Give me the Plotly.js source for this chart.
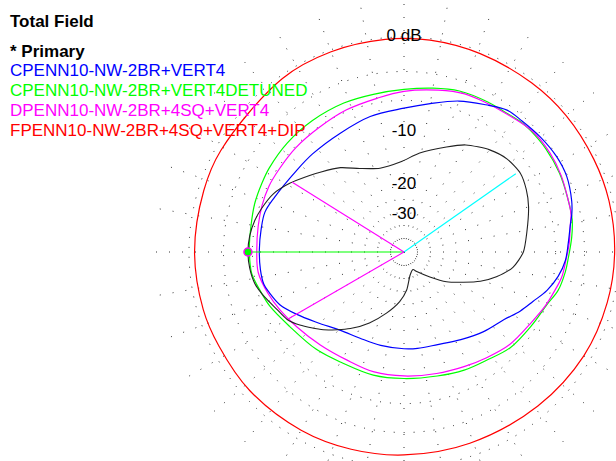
<!DOCTYPE html>
<html>
<head>
<meta charset="utf-8">
<script src="https://cdn.plot.ly/plotly-3.0.1.min.js"></script>
<style>
html,body{margin:0;padding:0;background:#fff;overflow:hidden;width:616px;height:461px;}
#plot{position:absolute;left:0;top:0;width:656px;height:504px;}
</style>
</head>
<body>
<div id="plot"></div>
<script>
// ---- data (dB relative to 0 dB, azimuth in degrees, CCW from east) ----
const titleText = 'Total Field';
const primaryLabel = '* Primary';
const seriesNames = ['CPENN10-NW-2BR+VERT4', 'CPENN10-NW-2BR+VERT4DETUNED', 'DPENN10-NW-2BR+4SQ+VERT4', 'FPENN10-NW-2BR+4SQ+VERT4+DIP'];
const seriesColors = ['#0000FF', '#00FF00', '#FF00FF', '#FF0000'];

const primaryAz = [0, 9, 20, 27, 34, 42, 50, 60, 68, 81, 92, 106, 118, 127, 136, 141, 149, 156, 163, 168, 174, 180, 186, 192, 198, 204, 210, 215, 224, 235, 244, 254, 265, 274, 285, 297, 303, 316, 325, 333, 339, 345, 352];
const primaryDb = [-10.1, -9.4, -8.3, -7.7, -7.3, -7.5, -8.2, -9.5, -11.0, -13.1, -14.9, -15.5, -14.1, -12.2, -10.7, -9.8, -8.2, -7.0, -6.3, -5.9, -5.6, -5.5, -5.6, -5.9, -6.6, -7.4, -8.0, -9.0, -11.2, -14.3, -17.2, -20.9, -25.1, -29.7, -37.8, -41.0, -38.1, -30.7, -24.4, -20.1, -16.6, -13.9, -11.5];

const blueAz = [3, 9, 13, 17, 25, 32, 40, 48, 54, 61, 70, 80, 90, 104, 118, 133, 143, 157, 164, 171, 179, 187, 193, 197, 203, 210, 219, 231, 243, 256, 270, 278, 290, 303, 315, 326, 333, 339, 345, 351, 357];
const blueDb = [-4.6, -4.2, -3.8, -3.5, -3.1, -3.05, -3.2, -3.4, -3.5, -4.2, -5.0, -6.1, -6.9, -7.4, -8.0, -8.1, -8.0, -7.3, -6.8, -6.8, -6.8, -6.8, -6.9, -7.3, -8.0, -9.4, -11.2, -13.0, -13.7, -13.8, -13.7, -13.6, -13.4, -12.4, -11.1, -9.9, -8.6, -7.6, -6.4, -5.5, -4.9];

const greenAz = [5, 11, 18, 27, 36, 44, 48, 55, 61, 71, 80, 90, 101, 112, 125, 137, 148, 154, 162, 171, 179, 188, 195, 202, 213, 228, 241, 256, 270, 285, 297, 308, 318, 330, 340, 346, 353, 358];
const greenDb = [-4.2, -3.9, -3.8, -3.6, -3.5, -3.5, -3.55, -3.8, -3.85, -4.0, -4.4, -4.8, -5.0, -5.0, -5.05, -5.1, -5.2, -5.3, -5.4, -5.6, -5.65, -5.75, -6.3, -6.8, -7.8, -8.5, -9.05, -9.05, -9.1, -8.85, -8.3, -7.8, -7.0, -6.5, -5.9, -5.2, -4.8, -4.6];

const magentaAz = [3, 9, 13, 18, 26, 34, 43, 54, 61, 69, 78, 90, 100, 112, 124, 136, 146, 154, 162, 170, 179, 188, 197, 205, 215, 228, 242, 256, 270, 285, 298, 308, 319, 331, 339, 345, 351, 357];
const magentaDb = [-4.5, -4.2, -3.9, -3.8, -3.55, -3.4, -3.4, -3.85, -4.0, -4.1, -4.5, -5.0, -5.5, -5.8, -6.1, -6.15, -6.2, -6.15, -6.25, -6.4, -6.5, -6.5, -7.1, -7.75, -8.55, -9.3, -9.7, -9.5, -9.45, -9.2, -8.7, -8.1, -7.3, -6.7, -6.05, -5.6, -5.1, -4.85];

const redAz = [0, 14, 26, 40, 53, 69, 83, 95, 110, 125, 151, 163, 180, 196, 207, 222, 240, 255, 270, 289, 311, 330, 346];
const redDb = [-0.35, -0.3, -0.3, -0.25, -0.25, -0.2, -0.12, -0.12, -0.15, -0.25, -0.45, -0.45, -0.45, -0.5, -0.6, -0.62, -0.75, -0.88, -0.99, -1.05, -0.9, -0.6, -0.45];

// marker lines of the primary pattern: max gain, -3 dB points, cursor
const lineAz = [180, 148, 210, 35];
const lineDb = [-5.5, -8.4, -8.2, -7.8];
const lineColors = ['#00FF00', '#FF00FF', '#FF00FF', '#00FFFF'];

// grid rings (dB) and labels
const denseRingsDb = [-50, -40, -30, -20, -10];
const sparseRingsDb = [-6, -3, 0];
const ringLabelDb = [0, -10, -20, -30];
const ringLabelText = ['0 dB', '-10', '-20', '-30'];

// ---- ARRL log scale ----
const tr = db => Math.pow(0.89, -db / 2);
const W = 656, H = 504;
const RPX = 252;             // polar radius in px
const RMAX = RPX / 215;      // 0 dB ring sits at 215 px
const FONT = 'Liberation Sans, Arial, sans-serif';

function loop(az, db) {
  return { theta: az.concat([az[0] + 360]), r: db.concat([db[0]]).map(tr) };
}

const traces = [];
const overlays = [
  [redAz, redDb, 3],
  [greenAz, greenDb, 1],
  [magentaAz, magentaDb, 2],
  [blueAz, blueDb, 0]
];
overlays.forEach(([az, db, ci]) => {
  const l = loop(az, db);
  traces.push({ type: 'scatterpolar', subplot: 'polar2', mode: 'lines', theta: l.theta, r: l.r,
    line: { color: seriesColors[ci], width: 1.2, shape: 'spline', smoothing: 1 }, hoverinfo: 'skip' });
});
const pl = loop(primaryAz, primaryDb);
traces.push({ type: 'scatterpolar', subplot: 'polar2', mode: 'lines', theta: pl.theta, r: pl.r,
  line: { color: '#222', width: 1.1, shape: 'spline', smoothing: 0.7 }, hoverinfo: 'skip' });

lineAz.forEach((a, i) => {
  traces.push({ type: 'scatterpolar', subplot: 'polar2', mode: 'lines', theta: [a, a], r: [0, tr(lineDb[i])],
    line: { color: lineColors[i], width: 1.1 }, hoverinfo: 'skip' });
});
traces.push({ type: 'scatterpolar', subplot: 'polar2', mode: 'markers', theta: [lineAz[0]], r: [tr(lineDb[0])],
  marker: { size: 8, color: '#00FF00', line: { color: '#FF00FF', width: 1.5 } }, hoverinfo: 'skip' });

traces.push({ type: 'scatterpolar', subplot: 'polar2', mode: 'text', theta: ringLabelDb.map(() => 90),
  r: ringLabelDb.map(tr), text: ringLabelText, textposition: 'middle center',
  textfont: { family: FONT, size: 17, color: '#000' }, hoverinfo: 'skip' });

const dom = { x: [(404 - RPX) / W, 1], y: [0, 1] };
const baseAngular = { rotation: 0, direction: 'counterclockwise', showticklabels: false, ticks: '', showline: false };
const layout = {
  width: W, height: H,
  margin: { l: 0, r: 0, t: 0, b: 0, pad: 0 },
  paper_bgcolor: '#fff',
  showlegend: false,
  font: { family: FONT },
  polar: {
    domain: dom, bgcolor: '#fff',
    radialaxis: { range: [0, RMAX], tickmode: 'array', tickvals: denseRingsDb.map(tr), showticklabels: false, ticks: '',
      showline: false, showgrid: true, gridcolor: '#111', griddash: '1px,3px', gridwidth: 1 },
    angularaxis: Object.assign({ showgrid: false }, baseAngular)
  },
  polar2: {
    domain: dom, bgcolor: 'rgba(0,0,0,0)',
    radialaxis: { range: [0, RMAX], tickmode: 'array', tickvals: sparseRingsDb.map(tr), showticklabels: false, ticks: '',
      showline: false, showgrid: true, gridcolor: '#222', griddash: '1px,9px', gridwidth: 1 },
    angularaxis: Object.assign({ tickmode: 'linear', tick0: 0, dtick: 10, showgrid: true, gridcolor: '#333',
      griddash: '1px,12px', gridwidth: 1 }, baseAngular)
  },
  annotations: []
};

// legend block (page px -> paper)
const px = (x) => x / W;
const py = (y) => 1 - y / H;
const legendLines = [[titleText, '#000', true, 21.4], [primaryLabel, '#000', true, 51.1]];
seriesNames.forEach((n, i) => legendLines.push([n, seriesColors[i], false, 70.8 + 20 * i]));
legendLines.forEach(([t, c, b, y]) => {
  layout.annotations.push({ xref: 'paper', yref: 'paper', x: px(8), y: py(y), xanchor: 'left', yanchor: 'middle',
    text: b ? '<b>' + t + '</b>' : t, showarrow: false, font: { family: FONT, size: 17, color: c } });
});

Plotly.newPlot('plot', traces, layout, { displayModeBar: false, staticPlot: true });
</script>
</body>
</html>
